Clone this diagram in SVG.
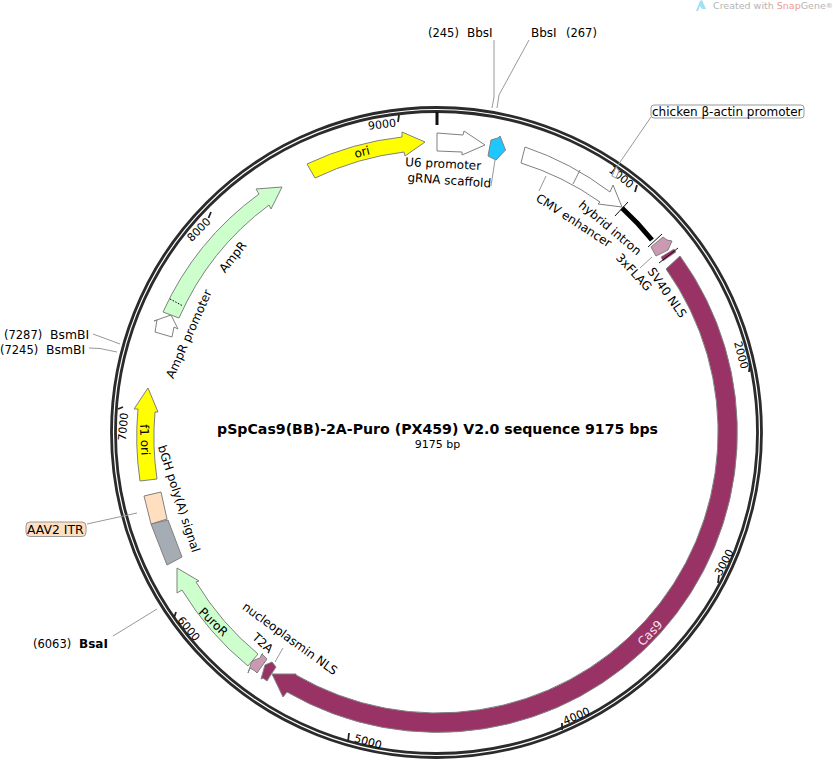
<svg xmlns="http://www.w3.org/2000/svg" width="833" height="763" viewBox="0 0 833 763">
<style>
text{font-family:"DejaVu Sans",Verdana,sans-serif;font-size:12px;fill:#000}
.tk{font-size:11px}
.mid{text-anchor:middle}
.ring{fill:none;stroke:#2b2b2b;stroke-width:2.800}
.tick{stroke:#222;stroke-width:1.800}
.f{stroke:#808080;stroke-width:1}
.lead{fill:none;stroke:#999;stroke-width:1}
.cut{stroke:#111;stroke-width:1;fill:none}
</style>
<rect width="833" height="763" fill="#fff"/>
<g id="watermark">
<polygon points="696,11 700,1 702,0 706,9 702,9 700,6 698,11" fill="#9fe0f5"/>
<text x="713" y="9" style="font-size:9.500px;fill:#b5b5b5">Created with <tspan fill="#ee9a90">Snap</tspan>Gene<tspan font-size="7px" dy="-1">®</tspan></text>
</g>
<g id="backbone">
<circle class="ring" cx="436.500" cy="432.500" r="325"/>
<circle class="ring" cx="436.500" cy="432.500" r="321"/>
<line x1="437" y1="112" x2="437" y2="125" stroke="#111" stroke-width="3"/>
</g>
<g id="ticks">
<line class="tick" x1="399" y1="115" x2="398" y2="122"/><text class="tk" transform="translate(368.600 129.800) rotate(-7)">9000</text>
<line class="tick" x1="211" y1="212" x2="208.500" y2="218"/><text class="tk" transform="translate(191.800 242.300) rotate(-46)">8000</text>
<line class="tick" x1="123" y1="407" x2="118" y2="409"/><text class="tk" transform="translate(125.700 441) rotate(-85)">7000</text>
<line class="tick" x1="176" y1="612" x2="174" y2="618"/><text class="tk" transform="translate(176.700 620.500) rotate(50)">6000</text>
<line class="tick" x1="349" y1="733" x2="348" y2="742"/><text class="tk" transform="translate(353.500 741.500) rotate(16)">5000</text>
<line class="tick" x1="562" y1="723" x2="562" y2="730"/><text class="tk" transform="translate(565 725) rotate(-23)">4000</text>
<line class="tick" x1="719" y1="575" x2="718" y2="583"/><text class="tk" transform="translate(721 576.500) rotate(-62)">3000</text>
<line class="tick" x1="750" y1="363" x2="749" y2="372"/><text class="tk" transform="translate(734 342.500) rotate(75)">2000</text>
<line class="tick" x1="637" y1="185" x2="635" y2="192"/><text class="tk" transform="translate(608 171.300) rotate(39)">1000</text>
</g>
<g id="connectors">
<polyline class="lead" points="494,40 494,97 492,108"/>
<polyline class="lead" points="529,40 499,95 497,108"/>
<polyline class="lead" points="93,334 120,344"/>
<polyline class="lead" points="89,348 100,348.500 117,352"/>
<line class="lead" x1="87" y1="524" x2="137" y2="513"/>
<line class="lead" x1="113" y1="636" x2="157" y2="609"/>
<polyline class="lead" points="651,117 616,168"/>
<polygon points="616,167 612,176 616,178 619,171" fill="#fff" stroke="#999"/>
<line class="lead" x1="495" y1="160" x2="491" y2="186"/>
<line class="lead" x1="546" y1="176" x2="539" y2="191"/>
<line class="lead" x1="652" y1="257" x2="640" y2="268"/>
<line class="lead" x1="283" y1="648" x2="275" y2="662"/>
<line class="lead" x1="263" y1="653" x2="261" y2="656"/>
</g>
<g id="ori">
<path class="f" fill="#ffff00" d="M307,164A298,298 0 0 1 402,137L402,132L425,142L405,156L404,152A282,282 0 0 0 315,178Z"/>
<text class="mid" transform="translate(363 156) rotate(-14)">ori</text>
</g>
<g id="U6-promoter">
<polygon class="f" fill="#fff" points="437,133 463,135 464,131 485,145 462,155 462,152 437,151"/>
<text class="mid" transform="translate(443 168) rotate(3)">U6 promoter</text>
</g>
<g id="gRNA-scaffold">
<polygon class="f" fill="#1cc8ff" points="488,156 491,140 498,138 500,136 505.500,150 496,160"/>
<text class="mid" transform="translate(449 184.500) rotate(4)">gRNA scaffold</text>
</g>
<g id="CMV-enhancer">
<path class="f" fill="#fff" d="M525,147A298,298 0 0 1 610,192L613,185L622,207L598,204L600,202A282,282 0 0 0 521,163Z"/>
<line class="f" x1="580" y1="170" x2="573" y2="184"/>
<text class="mid" transform="translate(571.500 224) rotate(33)">CMV enhancer</text>
</g>
<g id="hybrid-intron">
<path d="M622,208A290,290 0 0 1 652,240" fill="none" stroke="#000" stroke-width="5"/>
<line class="cut" x1="615" y1="216" x2="628" y2="202"/>
<line class="cut" x1="648" y1="247" x2="662" y2="234"/>
<text class="mid" transform="translate(607.400 231) rotate(40)">hybrid intron</text>
</g>
<g id="chicken-actin-promoter">
<rect x="651" y="105" width="153" height="13" rx="3" fill="#fff" stroke="#999"/>
<text x="652" y="115.500">chicken β-actin promoter</text>
</g>
<g id="3xFLAG">
<polygon class="f" fill="#cc99b3" points="651,247 663,237 667,240 672,241 668,250 656,256"/>
<text class="mid" transform="translate(631 275) rotate(47)">3xFLAG</text>
</g>
<g id="SV40-NLS">
<polygon fill="#993366" stroke="#808080" stroke-width="0.500" points="661,257 674,249 676,252 663,261"/>
<line class="cut" x1="659" y1="263" x2="678" y2="248"/>
<text class="mid" transform="translate(663.700 295) rotate(55)">SV40 NLS</text>
</g>
<g id="Cas9">
<path class="f" fill="#993366" d="M680,256A300,300 0 0 1 287,692L283,697L272,674L296,674L296,675A281,281 0 0 0 666,269Z"/>
<text class="mid" transform="translate(653 636) rotate(-46)" style="fill:#f6e4ed">Cas9</text>
</g>
<g id="nucleoplasmin-NLS">
<polygon class="f" fill="#993366" points="261,679 265,665 272,662 276,667 270,676 267,681 263,678"/>
<text class="mid" transform="translate(287.600 642) rotate(36)">nucleoplasmin NLS</text>
</g>
<g id="T2A">
<polygon class="f" fill="#cc99b3" points="248,673 252,661 260,658 262,654 267,659 257,673 255,671 250,668"/>
<text class="mid" transform="translate(260 646) rotate(42)">T2A</text>
</g>
<g id="PuroR">
<path class="f" fill="#ccffcc" d="M258,654A284,284 0 0 1 196,582L199,581L177,568L177,593L182,590A300,300 0 0 0 248,666Z"/>
<text class="mid" transform="translate(210.500 625) rotate(44)">PuroR</text>
</g>
<g id="bGH-polyA">
<polygon class="f" fill="#a6acb3" points="151,524 168,520 182,557 167,565"/>
<text class="mid" transform="translate(175 500) rotate(72)">bGH poly(A) signal</text>
</g>
<g id="AAV2-ITR">
<polygon class="f" fill="#ffdfbf" points="144,496 161,492 167,519 151,524"/>
<rect x="26" y="522" width="60" height="14.500" rx="4" fill="#ffdfbf" stroke="#999"/>
<text x="27" y="533.500" style="font-size:12.400px">AAV2 ITR</text>
</g>
<g id="f1-ori">
<path class="f" fill="#ffff00" d="M140,481A300,300 0 0 1 138,409L134,409L148,388L158,412L155,412A283,283 0 0 0 157,479Z"/>
<text class="mid" transform="translate(140.700 440) rotate(87)">f1 ori</text>
</g>
<g id="AmpR-promoter">
<polygon class="f" fill="#fff" points="155,332 157,320 154,321 171,315 178,329 174,327 172,337"/>
<text class="mid" transform="translate(192.700 335.600) rotate(-66)">AmpR promoter</text>
</g>
<g id="AmpR">
<path class="f" fill="#ccffcc" d="M163,312A299,299 0 0 1 259,194L256,189L282,187L271,209L269,205A282,282 0 0 0 179,318Z"/>
<line x1="170" y1="299" x2="183" y2="306" stroke="#000" stroke-dasharray="1.500 1.500"/>
<text class="mid" transform="translate(236 259.500) rotate(-52)">AmpR</text>
</g>
<g id="BbsI-245"><text x="428" y="37" style="font-size:11.500px">(245)</text><text x="467" y="37">BbsI</text></g>
<g id="BbsI-267"><text x="531" y="37">BbsI</text><text x="566" y="37" style="font-size:11.500px">(267)</text></g>
<g id="BsmBI-7287"><text x="4" y="338.500" style="font-size:11.500px">(7287)</text><text x="50" y="338.500" style="font-size:12.400px">BsmBI</text></g>
<g id="BsmBI-7245"><text x="0" y="353.500" style="font-size:11.500px">(7245)</text><text x="46" y="353.500" style="font-size:12.400px">BsmBI</text></g>
<g id="BsaI-6063"><text x="33" y="647.500" style="font-size:11.500px">(6063)</text><text x="79" y="647.500" font-weight="bold">BsaI</text></g>
<g id="title">
<text class="mid" x="437.500" y="433.500" style="font-size:14.150px;font-weight:bold">pSpCas9(BB)-2A-Puro (PX459) V2.0 sequence 9175 bps</text>
<text class="mid" x="437.500" y="448" style="font-size:11px">9175 bp</text>
</g>
</svg>
